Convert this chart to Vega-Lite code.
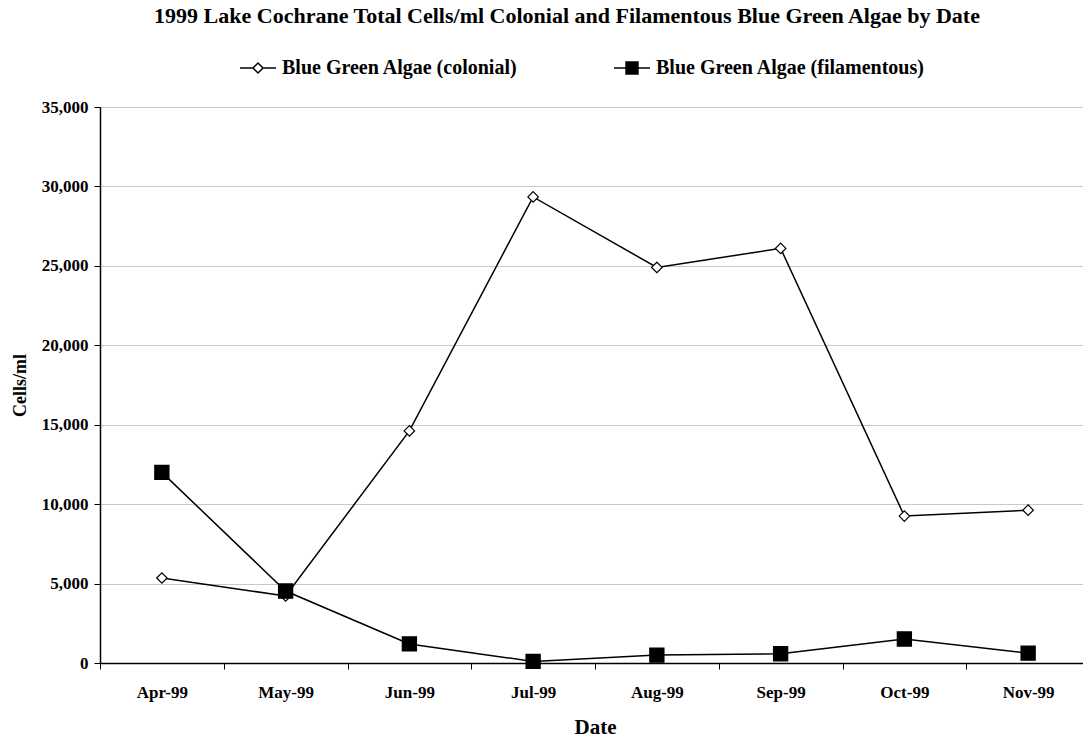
{
  "$schema": "https://vega.github.io/schema/vega-lite/v6.json",
  "width": 990,
  "height": 556,
  "autosize": {"type": "none"},
  "padding": {"left": 100, "top": 107, "right": 0, "bottom": 77},
  "background": "white",
  "title": {
    "text": "1999 Lake Cochrane Total Cells/ml Colonial and Filamentous Blue Green Algae by Date",
    "font": "Liberation Serif",
    "fontSize": 22,
    "fontWeight": "bold",
    "color": "black",
    "anchor": "middle",
    "dx": -28,
    "offset": 21
  },
  "config": {
    "view": {"stroke": "#888888", "strokeWidth": 1},
    "font": "Liberation Serif"
  },
  "data": {
    "values": [
      {"date": "Apr-99", "series": "Blue Green Algae (colonial)", "cells": 5350},
      {"date": "May-99", "series": "Blue Green Algae (colonial)", "cells": 4220},
      {"date": "Jun-99", "series": "Blue Green Algae (colonial)", "cells": 14610},
      {"date": "Jul-99", "series": "Blue Green Algae (colonial)", "cells": 29340},
      {"date": "Aug-99", "series": "Blue Green Algae (colonial)", "cells": 24900},
      {"date": "Sep-99", "series": "Blue Green Algae (colonial)", "cells": 26100},
      {"date": "Oct-99", "series": "Blue Green Algae (colonial)", "cells": 9250},
      {"date": "Nov-99", "series": "Blue Green Algae (colonial)", "cells": 9620},
      {"date": "Apr-99", "series": "Blue Green Algae (filamentous)", "cells": 12000},
      {"date": "May-99", "series": "Blue Green Algae (filamentous)", "cells": 4530},
      {"date": "Jun-99", "series": "Blue Green Algae (filamentous)", "cells": 1200},
      {"date": "Jul-99", "series": "Blue Green Algae (filamentous)", "cells": 100},
      {"date": "Aug-99", "series": "Blue Green Algae (filamentous)", "cells": 500},
      {"date": "Sep-99", "series": "Blue Green Algae (filamentous)", "cells": 580},
      {"date": "Oct-99", "series": "Blue Green Algae (filamentous)", "cells": 1510},
      {"date": "Nov-99", "series": "Blue Green Algae (filamentous)", "cells": 620}
    ]
  },
  "encoding": {
    "x": {
      "field": "date",
      "type": "ordinal",
      "sort": ["Apr-99", "May-99", "Jun-99", "Jul-99", "Aug-99", "Sep-99", "Oct-99", "Nov-99"],
      "scale": {"paddingInner": 0, "paddingOuter": 0},
      "title": "Date",
      "axis": {
        "labelAngle": 0,
        "labelFont": "Liberation Serif",
        "labelFontSize": 17,
        "labelFontWeight": "bold",
        "labelColor": "black",
        "labelPadding": 15,
        "titleFont": "Liberation Serif",
        "titleFontSize": 21,
        "titleFontWeight": "bold",
        "titleColor": "black",
        "titlePadding": 16,
        "domainColor": "black",
        "domainWidth": 1.5,
        "tickColor": "black",
        "tickWidth": 1,
        "tickSize": 6,
        "tickBand": "extent",
        "grid": false
      }
    },
    "y": {
      "field": "cells",
      "type": "quantitative",
      "scale": {"domain": [0, 35000], "nice": false},
      "title": "Cells/ml",
      "axis": {
        "values": [0, 5000, 10000, 15000, 20000, 25000, 30000, 35000],
        "format": ",.0f",
        "labelFont": "Liberation Serif",
        "labelFontSize": 17,
        "labelFontWeight": "bold",
        "labelColor": "black",
        "labelPadding": 6,
        "titleFont": "Liberation Serif",
        "titleFontSize": 18,
        "titleFontWeight": "bold",
        "titleColor": "black",
        "titlePadding": 12,
        "domainColor": "black",
        "domainWidth": 1.5,
        "tickColor": "black",
        "tickSize": 6,
        "gridColor": "#c8c8c8",
        "gridWidth": 1
      }
    }
  },
  "layer": [
    {
      "mark": {"type": "line", "color": "black", "strokeWidth": 1.5},
      "encoding": {"detail": {"field": "series"}}
    },
    {
      "mark": {"type": "point", "filled": true, "stroke": "black", "strokeWidth": 1.2, "opacity": 1},
      "encoding": {
        "shape": {
          "condition": {"test": "datum.series === 'Blue Green Algae (colonial)'", "value": "diamond"},
          "value": "square"
        },
        "size": {
          "condition": {"test": "datum.series === 'Blue Green Algae (colonial)'", "value": 110},
          "value": 200
        },
        "fill": {
          "condition": {"test": "datum.series === 'Blue Green Algae (colonial)'", "value": "white"},
          "value": "black"
        }
      }
    },
    {
      "transform": [{"filter": "false"}],
      "mark": {"type": "point", "filled": true, "strokeWidth": 1.5, "opacity": 1},
      "encoding": {
        "shape": {
          "field": "series",
          "type": "nominal",
          "scale": {
            "domain": ["Blue Green Algae (colonial)", "Blue Green Algae (filamentous)"],
            "range": [
              "M-1,0L-0.28,0M-0.28,0L0,-0.28L0.28,0L0,0.28ZM0.28,0L1,0",
              "M-1,0L-0.33,0M-0.33,-0.33L0.33,-0.33L0.33,0.33L-0.33,0.33ZM0.33,0L1,0"
            ]
          },
          "legend": {
            "title": null,
            "orient": "none",
            "direction": "horizontal",
            "legendX": 139,
            "legendY": -58,
            "symbolSize": 1296,
            "symbolStrokeWidth": 1.5,
            "symbolStrokeColor": "black",
            "symbolOpacity": 1,
            "columnPadding": 93,
            "labelFont": "Liberation Serif",
            "labelFontSize": 20,
            "labelFontWeight": "bold",
            "labelColor": "black",
            "labelOffset": 5,
            "labelLimit": 400
          }
        },
        "fill": {
          "field": "series",
          "type": "nominal",
          "scale": {
            "domain": ["Blue Green Algae (colonial)", "Blue Green Algae (filamentous)"],
            "range": ["white", "black"]
          }
        },
        "stroke": {
          "field": "series",
          "type": "nominal",
          "scale": {
            "domain": ["Blue Green Algae (colonial)", "Blue Green Algae (filamentous)"],
            "range": ["black", "black"]
          }
        }
      }
    }
  ]
}
